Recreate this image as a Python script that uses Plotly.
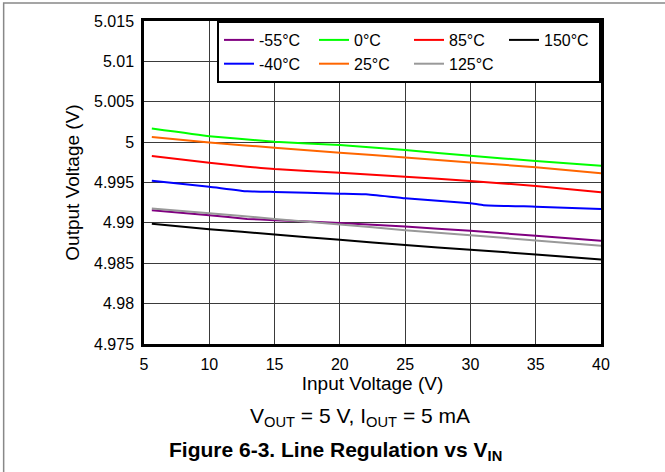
import plotly.graph_objects as go

# ---- data ----
vin_m55 = [5.6, 10, 12.9, 15, 20, 25, 30, 35, 40]
vout_m55 = [4.99157, 4.99095, 4.99049, 4.99033, 4.99000, 4.98954, 4.98901, 4.98840, 4.98778]

vin_m40 = [5.6, 10, 12.9, 15, 20, 22, 25, 30, 31, 35, 40]
vout_m40 = [4.99522, 4.99448, 4.99391, 4.99383, 4.99362, 4.99354, 4.99305, 4.99243, 4.99219, 4.99201, 4.99173]

vin_0 = [5.6, 10, 15, 20, 25, 30, 35, 40]
vout_0 = [5.00169, 5.00074, 5.00004, 4.99963, 4.99901, 4.99831, 4.99765, 4.99707]

vin_25 = [5.6, 10, 15, 20, 25, 30, 35, 40]
vout_25 = [5.00065, 4.99996, 4.99930, 4.99868, 4.99811, 4.99749, 4.99688, 4.99614]

vin_85 = [5.6, 10, 12.9, 15, 20, 25, 30, 35, 40]
vout_85 = [4.99827, 4.99744, 4.99695, 4.99667, 4.99621, 4.99572, 4.99519, 4.99457, 4.99379]

vin_125 = [5.6, 10, 15, 20, 25, 30, 35, 40]
vout_125 = [4.99177, 4.99120, 4.99049, 4.98979, 4.98910, 4.98848, 4.98782, 4.98716]

vin_150 = [5.6, 10, 15, 20, 25, 30, 35, 40]
vout_150 = [4.98988, 4.98922, 4.98856, 4.98790, 4.98725, 4.98667, 4.98609, 4.98547]

x_tickvals = [5, 10, 15, 20, 25, 30, 35, 40]
x_ticktext = ["5", "10", "15", "20", "25", "30", "35", "40"]
y_tickvals = [4.975, 4.98, 4.985, 4.99, 4.995, 5.0, 5.005, 5.01, 5.015]
y_ticktext = ["4.975", "4.98", "4.985", "4.99", "4.995", "5", "5.005", "5.01", "5.015"]

# legend order: row 1 then row 2
series = [
    ("-55°C", vin_m55, vout_m55, "#800080"),
    ("0°C", vin_0, vout_0, "#00FF00"),
    ("85°C", vin_85, vout_85, "#FF0000"),
    ("150°C", vin_150, vout_150, "#000000"),
    ("-40°C", vin_m40, vout_m40, "#0000FF"),
    ("25°C", vin_25, vout_25, "#FF6600"),
    ("125°C", vin_125, vout_125, "#999999"),
]

FONT = "Liberation Sans, Arial, sans-serif"

fig = go.Figure()
for name, xs, ys, color in series:
    fig.add_trace(go.Scatter(x=xs, y=ys, mode="lines", name=name,
                             line=dict(color=color, width=2, shape="spline", smoothing=0.3)))

L, R, T, B = 144, 63.5, 20.5, 127.5
W, H = 665, 472
pw = W - L - R
ph = H - T - B

fig.update_layout(
    width=W, height=H,
    margin=dict(l=L, r=R, t=T, b=B),
    paper_bgcolor="white", plot_bgcolor="white",
    font=dict(family=FONT, size=16, color="black"),
    showlegend=True,
    legend=dict(orientation="h", x=1, xanchor="right", y=1, yanchor="top",
                bgcolor="white", bordercolor="black", borderwidth=2,
                font=dict(size=16), entrywidth=50, entrywidthmode="pixels",
                itemwidth=30, tracegroupgap=0),
)

fig.update_xaxes(range=[5, 40], tickvals=x_tickvals, ticktext=x_ticktext,
                 showgrid=True, gridcolor="#3a3a3a", gridwidth=1.2,
                 showline=True, linecolor="black", linewidth=2.5, mirror=True,
                 ticks="outside", ticklen=4, tickcolor="rgba(0,0,0,0)", zeroline=False,
                 title=dict(text="Input Voltage (V)", standoff=3),
                 tickfont=dict(size=16))
fig.update_yaxes(range=[4.975, 5.015], tickvals=y_tickvals, ticktext=y_ticktext,
                 showgrid=True, gridcolor="#3a3a3a", gridwidth=1.2,
                 showline=True, linecolor="black", linewidth=2.5, mirror=True,
                 ticks="outside", ticklen=4, tickcolor="rgba(0,0,0,0)", zeroline=False,
                 title=dict(text="Output Voltage (V)", standoff=10),
                 tickfont=dict(size=16))

def px_x(x):
    return (x - L) / pw

def px_y(y):
    return (H - B - y) / ph

fig.add_annotation(text="V<sub>OUT</sub> = 5 V, I<sub>OUT</sub> = 5 mA",
                   x=px_x(360), y=px_y(418), xref="paper", yref="paper",
                   xanchor="center", yanchor="middle", showarrow=False,
                   font=dict(size=21, family=FONT))
fig.add_annotation(text="<b>Figure 6-3. Line Regulation vs V<sub>IN</sub></b>",
                   x=px_x(336), y=px_y(452), xref="paper", yref="paper",
                   xanchor="center", yanchor="middle", showarrow=False,
                   font=dict(size=21, family=FONT))

# outer frame (top and left edges visible)
fig.add_shape(type="rect", xref="paper", yref="paper",
              x0=px_x(3.5), x1=px_x(W + 20), y0=px_y(H + 20), y1=px_y(2.5),
              line=dict(color="#888888", width=1.5), layer="below")

fig.write_html("out.html", config={"displayModeBar": False},
               post_script="document.body.style.margin='0';")
